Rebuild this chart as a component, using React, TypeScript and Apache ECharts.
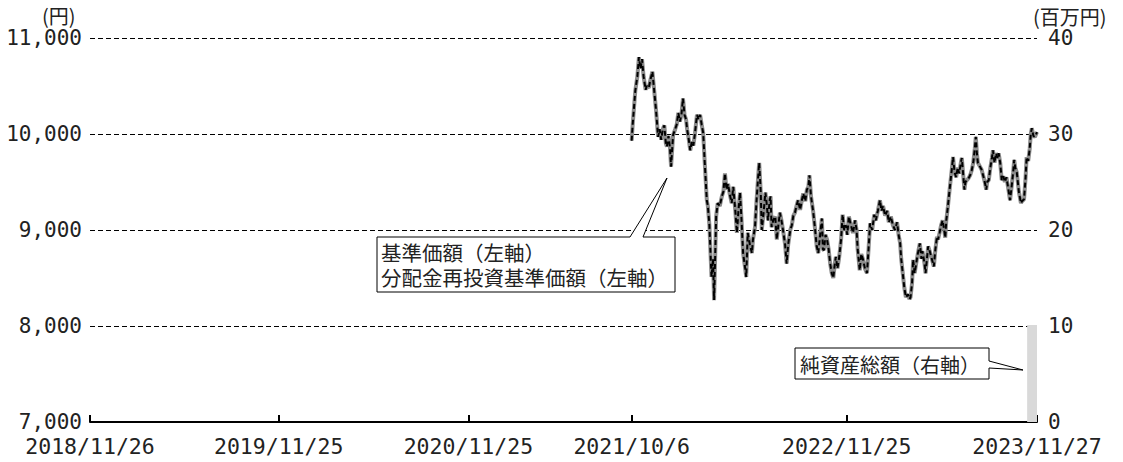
import React, { useEffect, useRef } from "react";
import * as echarts from "echarts";

const FONT = '"Noto Sans CJK JP", "Noto Sans", sans-serif';
const NUM_FONT = '"DejaVu Sans Mono", "Noto Sans CJK JP", monospace';
const TEXT_COLOR = "#222";

// x-axis tick dates and labels
const tickDates = ["2018-11-26", "2019-11-25", "2020-11-25", "2021-10-06", "2022-11-25", "2023-11-27"];
const tickLabels = ["2018/11/26", "2019/11/25", "2020/11/25", "2021/10/6", "2022/11/25", "2023/11/27"];

// 基準価額 (円) — 2021
const dates2021 = [
  "2021-10-06", "2021-10-08", "2021-10-13", "2021-10-17", "2021-10-20", "2021-10-23", "2021-10-26", "2021-10-29",
  "2021-11-02", "2021-11-04", "2021-11-08", "2021-11-11", "2021-11-15", "2021-11-18", "2021-11-22", "2021-11-26", "2021-11-29",
  "2021-12-02", "2021-12-05", "2021-12-08", "2021-12-11", "2021-12-13", "2021-12-16", "2021-12-19", "2021-12-21", "2021-12-25", "2021-12-29",
];
const nav2021 = [
  9930, 10100, 10450, 10600, 10800, 10680, 10780, 10600,
  10460, 10500, 10480, 10560, 10650, 10480, 10250, 9970, 10050,
  9940, 10050, 10090, 9900, 9870, 9980, 9850, 9660, 9990, 10050,
];

// 2022
const dates2022 = [
  "2022-01-01", "2022-01-04", "2022-01-07", "2022-01-10", "2022-01-13", "2022-01-16", "2022-01-19", "2022-01-21", "2022-01-24", "2022-01-27", "2022-01-30",
  "2022-02-02", "2022-02-05", "2022-02-09", "2022-02-12", "2022-02-15", "2022-02-18", "2022-02-21", "2022-02-24", "2022-02-28",
  "2022-03-02", "2022-03-05", "2022-03-09", "2022-03-12", "2022-03-14", "2022-03-18", "2022-03-21", "2022-03-25", "2022-03-29",
  "2022-04-01", "2022-04-04", "2022-04-07", "2022-04-10", "2022-04-13", "2022-04-17", "2022-04-20", "2022-04-24", "2022-04-27", "2022-04-30",
  "2022-05-03", "2022-05-06", "2022-05-09", "2022-05-13", "2022-05-15", "2022-05-18", "2022-05-22", "2022-05-26", "2022-05-28",
  "2022-06-01", "2022-06-04", "2022-06-07", "2022-06-09", "2022-06-12", "2022-06-14", "2022-06-17", "2022-06-21", "2022-06-24", "2022-06-26", "2022-06-29",
  "2022-07-01", "2022-07-03", "2022-07-06", "2022-07-10", "2022-07-13", "2022-07-16", "2022-07-19", "2022-07-22", "2022-07-25", "2022-07-29",
  "2022-08-01", "2022-08-04", "2022-08-08", "2022-08-11", "2022-08-14", "2022-08-17", "2022-08-20", "2022-08-23", "2022-08-27", "2022-08-30",
  "2022-09-02", "2022-09-06", "2022-09-09", "2022-09-12", "2022-09-14", "2022-09-17", "2022-09-21", "2022-09-25", "2022-09-28",
  "2022-10-01", "2022-10-05", "2022-10-08", "2022-10-10", "2022-10-12", "2022-10-15", "2022-10-18", "2022-10-21", "2022-10-24", "2022-10-27", "2022-10-30",
  "2022-11-02", "2022-11-04", "2022-11-07", "2022-11-10", "2022-11-14", "2022-11-17", "2022-11-20", "2022-11-23", "2022-11-26", "2022-11-29",
  "2022-12-03", "2022-12-07", "2022-12-11", "2022-12-14", "2022-12-16", "2022-12-20", "2022-12-23", "2022-12-26", "2022-12-30",
];
const nav2022 = [
  10100, 10220, 10130, 10200, 10370, 10200, 10150, 10050, 9950, 9830, 9920,
  9880, 10000, 10200, 10150, 10200, 10100, 10010, 9700, 9310,
  9250, 9050, 8510, 8700, 8270, 9140, 9280, 9250, 9350,
  9400, 9590, 9420, 9480, 9380, 9280, 9450, 9200, 8970, 9200,
  9390, 9100, 8760, 8600, 8510, 8970, 8850, 8760, 8900,
  9030, 9310, 9550, 9700, 9400, 9000, 9150, 9390, 9250, 9100, 9300,
  9350, 9030, 9100, 9140, 8900, 9050, 9180, 9100, 9000, 8850,
  8650, 8850, 9000, 9050, 9150, 9180, 9250, 9310, 9210, 9300,
  9380, 9300, 9420, 9450, 9570, 9350, 9200, 9000, 8830,
  8760, 8970, 9120, 8800, 8790, 8950, 8900, 8800, 8650, 8550, 8500,
  8650, 8720, 8600, 8700, 8900, 9160, 9000, 9050, 8950, 9140,
  9050, 8970, 9100, 9000, 8800, 8580, 8750, 8700, 8600,
];

// 2023
const dates2023 = [
  "2023-01-03", "2023-01-06", "2023-01-09", "2023-01-13", "2023-01-17", "2023-01-20", "2023-01-24", "2023-01-28", "2023-01-31",
  "2023-02-03", "2023-02-07", "2023-02-11", "2023-02-14", "2023-02-18", "2023-02-22", "2023-02-26",
  "2023-03-02", "2023-03-05", "2023-03-08", "2023-03-10", "2023-03-13", "2023-03-16", "2023-03-19", "2023-03-23", "2023-03-26", "2023-03-28", "2023-03-31",
  "2023-04-02", "2023-04-05", "2023-04-07", "2023-04-11", "2023-04-15", "2023-04-18", "2023-04-20", "2023-04-24", "2023-04-26",
  "2023-05-01", "2023-05-04", "2023-05-08", "2023-05-12", "2023-05-15", "2023-05-18", "2023-05-20", "2023-05-23", "2023-05-26", "2023-05-29",
  "2023-06-01", "2023-06-03", "2023-06-05", "2023-06-08", "2023-06-11", "2023-06-14", "2023-06-16", "2023-06-18", "2023-06-21", "2023-06-24", "2023-06-27", "2023-06-30",
  "2023-07-03", "2023-07-05", "2023-07-08", "2023-07-10", "2023-07-12", "2023-07-15", "2023-07-18", "2023-07-21", "2023-07-24", "2023-07-27", "2023-07-30",
  "2023-08-01", "2023-08-03", "2023-08-05", "2023-08-09", "2023-08-12", "2023-08-16", "2023-08-19", "2023-08-21", "2023-08-23", "2023-08-26", "2023-08-29",
  "2023-09-01", "2023-09-03", "2023-09-06", "2023-09-09", "2023-09-12", "2023-09-14", "2023-09-17", "2023-09-20", "2023-09-23", "2023-09-26", "2023-09-29",
  "2023-10-02", "2023-10-06", "2023-10-09", "2023-10-12", "2023-10-14", "2023-10-16", "2023-10-19", "2023-10-23", "2023-10-27", "2023-10-29",
  "2023-11-02", "2023-11-05", "2023-11-07", "2023-11-10", "2023-11-13", "2023-11-15", "2023-11-17", "2023-11-20", "2023-11-23", "2023-11-27",
];
const nav2023 = [
  8550, 8800, 9070, 9000, 9160, 9100, 9200, 9310, 9200,
  9250, 9150, 9200, 9080, 9140, 9050, 9000,
  9080, 8950, 8860, 8700, 8550, 8400, 8300, 8330, 8280, 8300, 8450,
  8690, 8550, 8620, 8750, 8860, 8700, 8780, 8650, 8550,
  8830, 8780, 8700, 8620, 8800, 8930, 8900, 8970, 9050, 9100,
  9000, 8920, 9100, 9240, 9400, 9550, 9650, 9760, 9600, 9550, 9650, 9590,
  9700, 9750, 9550, 9420, 9500, 9520, 9540, 9570, 9620, 9700, 9850,
  9970, 9800, 9700, 9660, 9630, 9550, 9480, 9420, 9500, 9520, 9650,
  9750, 9830, 9700, 9800, 9750, 9800, 9700, 9520, 9560, 9500, 9550,
  9450, 9310, 9450, 9600, 9730, 9650, 9600, 9400, 9280, 9300,
  9320, 9550, 9760, 9720, 9850, 10000, 10060, 9980, 9970, 10020,
];

// 分配金再投資基準価額 (円) — identical to 基準価額 (no distributions)
const reinvest2021 = nav2021;
const reinvest2022 = nav2022;
const reinvest2023 = nav2023;

// 純資産総額 (百万円)
const netAssetDates = ["2023-11-08", "2023-11-27"];
const netAssetValues = [10.1, 10.1];

function toTs(s: string): number {
  const [y, m, d] = s.split("-").map(Number);
  return Date.UTC(y, m - 1, d);
}

const allDates = [...dates2021, ...dates2022, ...dates2023];
const navAll = [...nav2021, ...nav2022, ...nav2023];
const reinvestAll = [...reinvest2021, ...reinvest2022, ...reinvest2023];

const tickTs = tickDates.map(toTs);

function buildOption(): any {
  return {
    animation: false,
    textStyle: { fontFamily: FONT },
    grid: { left: 90, right: 86, top: 38, bottom: 40, containLabel: false },
    xAxis: {
      type: "value",
      min: toTs("2018-11-26"),
      max: toTs("2023-11-27"),
      axisLine: { show: true, onZero: false, lineStyle: { color: "#000", width: 2 } },
      axisTick: { show: true, inside: true, length: 7, customValues: tickTs, lineStyle: { color: "#000", width: 2 } },
      axisLabel: {
        show: true,
        customValues: tickTs,
        color: TEXT_COLOR,
        fontFamily: NUM_FONT,
        fontSize: 21.5,
        margin: 14,
        hideOverlap: false,
        showMinLabel: true,
        showMaxLabel: true,
        formatter: (v: number) => {
          const i = tickTs.findIndex((t) => Math.abs(t - v) < 86400000);
          return i >= 0 ? tickLabels[i] : "";
        },
      },
      splitLine: { show: false },
    },
    yAxis: [
      {
        type: "value",
        min: 7000,
        max: 11000,
        interval: 1000,
        axisLine: { show: false },
        axisTick: { show: false },
        axisLabel: {
          color: TEXT_COLOR,
          fontFamily: NUM_FONT,
          fontSize: 21,
          margin: 8,
          formatter: (v: number) => v.toLocaleString("en-US"),
        },
        splitLine: { show: true, lineStyle: { color: "#000", width: 1, type: [5, 3] } },
      },
      {
        type: "value",
        min: 0,
        max: 40,
        interval: 10,
        position: "right",
        axisLine: { show: false },
        axisTick: { show: false },
        axisLabel: { color: TEXT_COLOR, fontFamily: NUM_FONT, fontSize: 21, margin: 11 },
        splitLine: { show: false },
      },
    ],
    series: [
      {
        name: "純資産総額",
        type: "line",
        yAxisIndex: 1,
        data: netAssetDates.map((d, i) => [toTs(d), netAssetValues[i]]),
        symbol: "none",
        lineStyle: { width: 0 },
        areaStyle: { color: "#d9d9d9", opacity: 1 },
        z: 1,
      },
      {
        name: "基準価額",
        type: "line",
        yAxisIndex: 0,
        data: allDates.map((d, i) => [toTs(d), navAll[i]]),
        symbol: "none",
        lineStyle: { color: "#8c8c8c", width: 4 },
        z: 3,
      },
      {
        name: "分配金再投資基準価額",
        type: "line",
        yAxisIndex: 0,
        data: allDates.map((d, i) => [toTs(d), reinvestAll[i]]),
        symbol: "none",
        lineStyle: { color: "#000", width: 2, type: [5, 3] },
        z: 4,
      },
    ],
    graphic: [
      {
        type: "text",
        x: 42,
        y: 15,
        style: { text: "(円)", fontFamily: FONT, fontSize: 20, lineHeight: 20, fill: TEXT_COLOR, verticalAlign: "middle" },
      },
      {
        type: "text",
        x: 1033,
        y: 16,
        style: { text: "(百万円)", fontFamily: FONT, fontSize: 20, lineHeight: 20, fill: TEXT_COLOR, verticalAlign: "middle" },
      },
      {
        type: "polygon",
        shape: {
          points: [
            [377, 237], [630, 237], [667, 178], [643, 237], [675, 237], [675, 292], [377, 292],
          ],
        },
        style: { fill: "#fff", stroke: "#000", lineWidth: 1 },
        z: 10,
      },
      {
        type: "text",
        x: 381,
        y: 264,
        style: {
          text: "基準価額（左軸）\n分配金再投資基準価額（左軸）",
          fontFamily: FONT,
          fontSize: 20.5,
          lineHeight: 25,
          fill: TEXT_COLOR,
          verticalAlign: "middle",
        },
        z: 11,
      },
      {
        type: "polygon",
        shape: {
          points: [
            [795, 348], [989, 348], [989, 361], [1023, 370], [989, 368], [989, 379], [795, 379],
          ],
        },
        style: { fill: "#fff", stroke: "#000", lineWidth: 1 },
        z: 10,
      },
      {
        type: "text",
        x: 800,
        y: 364,
        style: { text: "純資産総額（右軸）", fontFamily: FONT, fontSize: 20, fill: TEXT_COLOR, verticalAlign: "middle" },
        z: 11,
      },
    ],
  };
}

export default function App() {
  const ref = useRef<HTMLDivElement>(null);
  useEffect(() => {
    if (!ref.current) return;
    const chart = echarts.init(ref.current, null, { renderer: "svg" });
    chart.setOption(buildOption());
    return () => chart.dispose();
  }, []);
  return (
    <div
      ref={ref}
      style={{ position: "fixed", left: 0, top: 0, width: 1123, height: 462, background: "#fff" }}
    />
  );
}
